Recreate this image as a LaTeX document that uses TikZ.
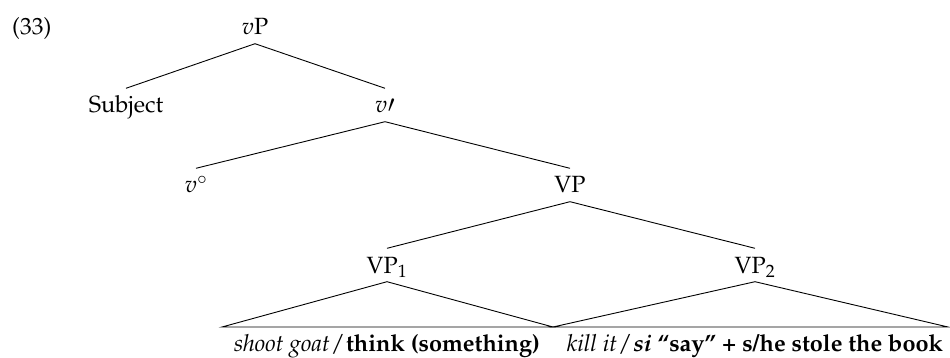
\documentclass[tikz,border=0pt]{standalone}
\usepackage[T1]{fontenc}
\usepackage{mathpazo}
\begin{document}
\begin{tikzpicture}[x=1pt,y=-1pt,
  lab/.style={anchor=base,font=\fontsize{23.5}{28}\selectfont,text height=16pt,text depth=0pt,inner xsep=0pt,inner ysep=8.5pt},
  leaf/.style={anchor=base,font=\fontsize{23.5}{28}\selectfont,inner sep=0pt},
  edge/.style={line width=0.9pt}]
\useasboundingbox (0,0) rectangle (950,358);
\node[anchor=base west,font=\fontsize{23.5}{28}\selectfont,inner sep=0pt] (ex) at (12,35) {(33)};
\node[lab] (vP) at (255,35) {$v$P};
\node[lab] (subj) at (126,113) {Subject};
\node[lab] (vbar) at (385,113) {$v\prime$};
\node[lab] (v0) at (196,193) {$v^\circ$};
\node[lab] (VP) at (570,193) {VP};
\node[lab] (VP1) at (387,273) {VP$_1$};
\node[lab] (VP2) at (755,273) {VP$_2$};
\coordinate (a) at (222,327);
\coordinate (b) at (553,327);
\coordinate (c) at (948,327);
\node[leaf] (l1) at (387,351) {\textit{shoot goat}\kern1pt/\kern1pt\textbf{think (something)}};
\node[leaf] (l2) at (755,351) {\textit{kill it}\kern1pt/\kern1pt\textbf{\textit{si}} \textbf{``say'' + s/he stole the book}};
\draw[edge] (vP.south) -- (subj.north);
\draw[edge] (vP.south) -- (vbar.north);
\draw[edge] (vbar.south) -- (v0.north);
\draw[edge] (vbar.south) -- (VP.north);
\draw[edge] (VP.south) -- (VP1.north);
\draw[edge] (VP.south) -- (VP2.north);
\draw[edge] (VP1.south) -- (a) -- (b) -- cycle;
\draw[edge] (VP2.south) -- (b) -- (c) -- cycle;
\end{tikzpicture}
\end{document}
